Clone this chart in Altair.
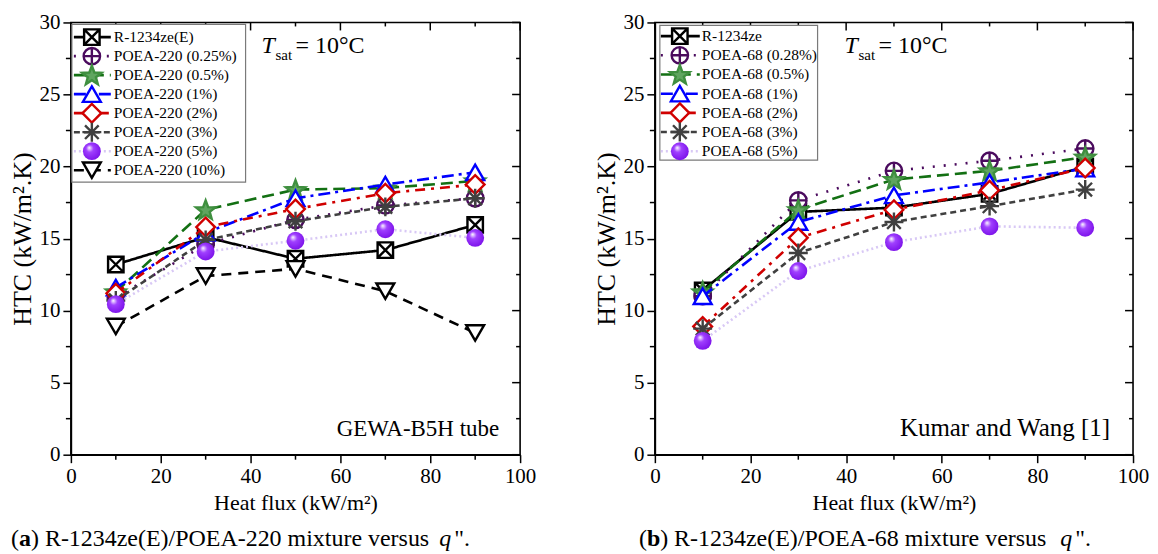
import math
import altair as alt
import pandas as pd

# ---------------- data ----------------
flux = [10, 30, 50, 70, 90]

left_names = ["R-1234ze(E)", "POEA-220 (0.25%)", "POEA-220 (0.5%)", "POEA-220 (1%)",
              "POEA-220 (2%)", "POEA-220 (3%)", "POEA-220 (5%)", "POEA-220 (10%)"]
left_R = [13.2, 15.1, 13.6, 14.2, 15.95]
left_025 = [10.9, 14.6, 16.3, 17.3, 17.8]
left_05 = [11.3, 17.0, 18.4, 18.5, 19.0]
left_1 = [11.6, 15.4, 17.8, 18.75, 19.6]
left_2 = [11.2, 15.8, 17.05, 18.15, 18.75]
left_3 = [10.7, 14.9, 16.2, 17.2, 17.8]
left_5 = [10.45, 14.1, 14.85, 15.65, 15.05]
left_10 = [8.9, 12.4, 12.9, 11.35, 8.45]
left_values = [left_R, left_025, left_05, left_1, left_2, left_3, left_5, left_10]

right_names = ["R-1234ze", "POEA-68 (0.28%)", "POEA-68 (0.5%)", "POEA-68 (1%)",
               "POEA-68 (2%)", "POEA-68 (3%)", "POEA-68 (5%)"]
right_R = [11.4, 16.85, 17.15, 18.1, 20.0]
right_028 = [11.0, 17.65, 19.7, 20.4, 21.25]
right_05 = [11.3, 17.0, 19.1, 19.7, 20.65]
right_1 = [11.0, 16.15, 18.0, 18.9, 19.85]
right_2 = [8.9, 15.05, 17.0, 18.35, 19.9]
right_3 = [8.75, 14.0, 16.15, 17.25, 18.4]
right_5 = [7.9, 12.75, 14.75, 15.85, 15.75]
right_values = [right_R, right_028, right_05, right_1, right_2, right_3, right_5]

x_major = [0, 20, 40, 60, 80, 100]
x_minor = [10, 30, 50, 70, 90]
y_major = [0, 5, 10, 15, 20, 25, 30]
y_minor = [2.5, 7.5, 12.5, 17.5, 22.5, 27.5]

FONT = "Liberation Serif, Times New Roman, DejaVu Serif, serif"
H = 433

# ---------------- marker shapes ----------------
SQX = "M-1,-1L1,-1L1,1L-1,1Z M-1,-1L1,1 M1,-1L-1,1"
CPLUS = "M-1,0A1,1,0,1,1,1,0A1,1,0,1,1,-1,0Z M-1,0L1,0 M0,-1L0,1"
pts = []
for k in range(10):
    r = 1.0 if k % 2 == 0 else 0.42
    a = -math.pi / 2 + k * math.pi / 5
    pts.append(f"{r*math.cos(a):.3f},{r*math.sin(a)+0.08:.3f}")
STAR = "M" + "L".join(pts) + "Z"
AST = "M-1,0L1,0 M0,-1L0,1 M-0.72,-0.72L0.72,0.72 M0.72,-0.72L-0.72,0.72"

sphere = alt.RadialGradient(
    gradient="radial",
    stops=[alt.GradientStop(color="#ffffff", offset=0),
           alt.GradientStop(color="#a040ff", offset=0.35),
           alt.GradientStop(color="#7a10e8", offset=1)],
    x1=0.35, y1=0.3, r1=0.0, x2=0.45, y2=0.45, r2=0.6)

styles = [
    dict(color="black", dash=[1, 0], shape=SQX, fill="white", stroke="black", size=240),
    dict(color="#4b0b5e", dash=[2, 9], shape=CPLUS, fill="white", stroke="#4b0b5e", size=270),
    dict(color="#137013", dash=[12, 6], shape=STAR, fill="#5fa55f", stroke="#3f8f3f", size=420),
    dict(color="#0000ff", dash=[12, 5, 3, 5], shape="triangle-up", fill="white", stroke="#0000ff", size=320),
    dict(color="#d00000", dash=[10, 6, 3, 6], shape="diamond", fill="white", stroke="#d00000", size=350),
    dict(color="#404040", dash=[6, 4], shape=AST, fill="none", stroke="#404040", size=360),
    dict(color="#d8c8f5", dash=[2, 3], shape="circle", fill=sphere, stroke="none", size=320),
    dict(color="black", dash=[10, 7], shape="triangle-down", fill="white", stroke="black", size=320),
]


def point_mark(st, chart):
    kw = dict(shape=st["shape"], size=st["size"], strokeWidth=2.4, opacity=1, filled=True,
              fill=st["fill"])
    if st["stroke"] != "none":
        kw["stroke"] = st["stroke"]
    else:
        kw["strokeWidth"] = 0
    return chart.mark_point(**kw)


def one_row():
    return pd.DataFrame({"k": [0]})


def panel(names, values, W, leg, tsat_x, note, note_x, note_fs, cap_label, cap_text, cap_x, lab_w, q_x):
    X = alt.X("q:Q", scale=alt.Scale(domain=[0, 100], nice=False),
              axis=alt.Axis(values=x_major, title="Heat flux (kW/m²)", format="d"))
    Y = alt.Y("h:Q", scale=alt.Scale(domain=[0, 30], nice=False),
              axis=alt.Axis(values=y_major, title="HTC (kW/m².K)", format="d",
                            titleFontSize=26, titlePadding=3))
    layers = []
    for i, (nm, vals) in enumerate(zip(names, values)):
        st = styles[i]
        df = pd.DataFrame({"q": flux, "h": vals, "s": nm})
        base = alt.Chart(df)
        layers.append(base.mark_line(color=st["color"], strokeDash=st["dash"], strokeWidth=2.6)
                      .encode(x=X, y=Y))
        layers.append(point_mark(st, base).encode(x=X, y=Y))
    # minor outward ticks, inward top/right ticks
    dxm = pd.DataFrame({"q": x_minor})
    dxM = pd.DataFrame({"q": x_major})
    dym = pd.DataFrame({"h": y_minor})
    dyM = pd.DataFrame({"h": y_major})
    layers.append(alt.Chart(dxm).mark_rule(color="black", strokeWidth=1.5)
                  .encode(x=X, y=alt.value(H), y2=alt.value(H + 5)))
    layers.append(alt.Chart(dym).mark_rule(color="black", strokeWidth=1.5)
                  .encode(y=Y, x=alt.value(0), x2=alt.value(-5)))
    layers.append(alt.Chart(dxm).mark_rule(color="black", strokeWidth=1.5)
                  .encode(x=X, y=alt.value(0), y2=alt.value(4)))
    layers.append(alt.Chart(dxM).mark_rule(color="black", strokeWidth=1.5)
                  .encode(x=X, y=alt.value(0), y2=alt.value(8)))
    layers.append(alt.Chart(dym).mark_rule(color="black", strokeWidth=1.5)
                  .encode(y=Y, x=alt.value(W), x2=alt.value(W - 4)))
    layers.append(alt.Chart(dyM).mark_rule(color="black", strokeWidth=1.5)
                  .encode(y=Y, x=alt.value(W), x2=alt.value(W - 8)))
    main = alt.layer(*layers)

    # legend (own point scale for rows)
    n = len(names)
    bx0, bx1, by0, by1, r0, r1, lx0, lx1, mx, tx = leg
    LY = alt.Y("row:O", scale=alt.Scale(type="point", domain=list(range(n)), range=[r0, r1], padding=0),
               axis=None)
    lg = [alt.Chart(one_row()).mark_rect(fill="white", stroke="#7a7a7a", strokeWidth=1.2)
          .encode(x=alt.value(bx0), x2=alt.value(bx1), y=alt.value(by0), y2=alt.value(by1))]
    for i, nm in enumerate(names):
        st = styles[i]
        d = pd.DataFrame({"row": [i], "name": [nm]})
        b = alt.Chart(d)
        lg.append(b.mark_rule(color=st["color"], strokeDash=st["dash"], strokeWidth=2.6)
                  .encode(y=LY, x=alt.value(lx0), x2=alt.value(lx1)))
        lg.append(point_mark(st, b).encode(y=LY, x=alt.value(mx)))
        lg.append(b.mark_text(align="left", baseline="middle", font=FONT, fontSize=15.5, color="black")
                  .encode(y=LY, x=alt.value(tx), text="name:N"))
    # annotations
    t = alt.Chart(one_row())
    lg.append(t.mark_text(text="T", font=FONT, fontSize=24, fontStyle="italic", align="left",
                          baseline="alphabetic", color="black")
              .encode(x=alt.value(tsat_x), y=alt.value(31)))
    lg.append(t.mark_text(text="sat", font=FONT, fontSize=15, align="left",
                          baseline="alphabetic", color="black")
              .encode(x=alt.value(tsat_x + 14), y=alt.value(38)))
    lg.append(t.mark_text(text="= 10°C", font=FONT, fontSize=24, align="left",
                          baseline="alphabetic", color="black")
              .encode(x=alt.value(tsat_x + 34), y=alt.value(31)))
    lg.append(t.mark_text(text=note, font=FONT, fontSize=note_fs, align="right",
                          baseline="alphabetic", color="black")
              .encode(x=alt.value(note_x), y=alt.value(414)))
    # caption
    cy = 524
    fs = 24
    lg.append(t.mark_text(text="(", font=FONT, fontSize=fs, align="left", baseline="alphabetic", color="black")
              .encode(x=alt.value(cap_x), y=alt.value(cy)))
    lg.append(t.mark_text(text=cap_label, font=FONT, fontSize=fs, fontWeight="bold", align="left",
                          baseline="alphabetic", color="black")
              .encode(x=alt.value(cap_x + 8), y=alt.value(cy)))
    lg.append(t.mark_text(text=cap_text, font=FONT, fontSize=fs, align="left", baseline="alphabetic",
                          color="black")
              .encode(x=alt.value(cap_x + 8 + lab_w), y=alt.value(cy)))
    lg.append(t.mark_text(text="q", font=FONT, fontSize=fs, fontStyle="italic", align="left",
                          baseline="alphabetic", color="black")
              .encode(x=alt.value(q_x), y=alt.value(cy)))
    lg.append(t.mark_text(text="\".", font=FONT, fontSize=fs, align="left", baseline="alphabetic",
                          color="black")
              .encode(x=alt.value(q_x + 15), y=alt.value(cy)))
    legend = alt.layer(*lg)
    return alt.layer(main, legend).resolve_scale(y="independent").properties(width=W, height=H)


left = panel(left_names, left_values, 450,
             (1, 175, 2, 160, 14.7, 148, 3, 40, 21, 43),
             191, "GEWA-B5H tube", 429, 23,
             "a", ") R-1234ze(E)/POEA-220 mixture versus", -60, 12, 369)
right = panel(right_names, right_values, 479,
              (5, 163, 3, 138, 13.7, 129, 6, 45, 25, 47),
              190, "Kumar and Wang [1]", 456, 25,
              "b", ") R-1234ze(E)/POEA-68 mixture versus", -16, 13.3, 406)

chart = alt.HConcatChart(hconcat=[left, right], spacing=135, bounds="flush").properties(
    padding={"left": 1, "top": 2, "right": 0, "bottom": 0}
).configure_view(stroke="black", strokeWidth=1.6).configure_axis(
    grid=False, domainColor="black", domainWidth=1.6, tickColor="black", tickWidth=1.5, tickSize=8,
    labelFont=FONT, labelFontSize=21, labelColor="black", labelPadding=3,
    titleFont=FONT, titleFontSize=22, titleFontWeight="normal", titleColor="black", titlePadding=6,
    labelFlush=False
)

chart.save("out.html", embed_options={"renderer": "svg", "actions": False})
